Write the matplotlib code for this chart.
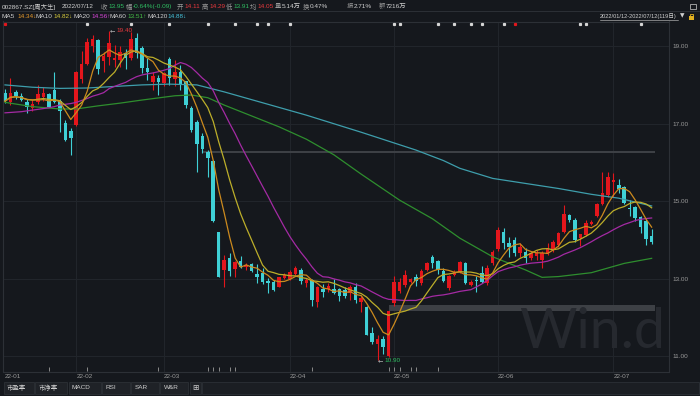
import numpy as np
import pandas as pd
import matplotlib
matplotlib.use('Agg')
import matplotlib.pyplot as plt
from matplotlib.patches import Rectangle
from matplotlib.lines import Line2D

plt.rcParams['font.family'] = ['Liberation Sans', 'Noto Sans CJK SC', 'DejaVu Sans']

# 002867.SZ daily bars, 2022/01/12 - 2022/07/12 (119 days)
opens = [17.78, 17.55, 17.82, 17.72, 17.57, 17.40, 17.57, 17.70, 17.76, 17.87,
         17.58, 17.03, 16.81, 16.97, 18.15, 18.53, 19.01, 19.16, 18.62, 18.73,
         18.63, 18.64, 18.81, 18.69, 19.20, 18.94, 18.43, 18.07, 18.17, 18.04,
         18.67, 18.15, 18.34, 18.10, 17.40, 17.04, 16.69, 16.26, 16.04, 14.20,
         13.23, 13.53, 13.25, 13.45, 13.30, 13.38, 13.13, 13.14, 12.95, 12.93,
         12.80, 13.02, 12.99, 13.13, 13.23, 12.90, 12.97, 12.41, 12.73, 12.73,
         12.73, 12.73, 12.71, 12.63, 12.80, 12.41, 12.28, 11.61, 11.32, 11.44,
         11.01, 12.37, 12.70, 12.84, 12.92, 13.04, 12.90, 13.23, 13.56, 13.46,
         13.21, 12.76, 13.10, 13.19, 13.40, 12.84, 12.97, 13.14, 12.89, 13.40,
         13.76, 14.22, 13.93, 14.00, 13.66, 13.70, 13.53, 13.59, 13.49, 13.64,
         13.76, 13.87, 14.22, 14.65, 14.52, 14.05, 14.13, 14.41, 14.62, 14.93,
         15.16, 15.49, 15.42, 15.36, 14.82, 14.85, 14.60, 14.50, 14.11]
highs = [17.89, 18.17, 17.87, 17.78, 17.64, 17.60, 18.00, 17.94, 17.80, 18.34,
         17.64, 17.10, 16.88, 18.37, 18.87, 19.20, 19.29, 19.18, 18.86, 19.40,
         19.03, 19.00, 18.93, 19.36, 19.35, 19.00, 18.69, 18.34, 18.26, 18.34,
         18.73, 18.64, 18.51, 18.10, 17.45, 17.10, 16.75, 16.32, 16.06, 14.22,
         13.62, 13.67, 13.47, 13.59, 13.42, 13.40, 13.38, 13.27, 13.02, 12.98,
         13.06, 13.14, 13.22, 13.32, 13.27, 13.02, 13.00, 12.82, 12.87, 12.89,
         13.00, 12.76, 12.80, 12.84, 12.89, 12.55, 12.30, 11.77, 11.55, 11.53,
         12.16, 13.07, 13.02, 13.23, 13.02, 13.13, 13.25, 13.44, 13.62, 13.49,
         13.27, 13.10, 13.23, 13.47, 13.44, 12.96, 13.07, 13.33, 13.36, 13.74,
         14.35, 14.30, 14.09, 14.07, 13.92, 13.79, 13.70, 13.74, 13.72, 13.92,
         14.00, 14.22, 14.90, 14.68, 14.56, 14.16, 14.52, 14.52, 14.95, 15.76,
         15.76, 15.73, 15.57, 15.40, 15.03, 14.88, 14.62, 14.55, 14.29]
lows = [17.53, 17.48, 17.63, 17.58, 17.27, 17.33, 17.50, 17.58, 17.42, 17.53,
        16.79, 16.55, 16.19, 16.95, 18.04, 18.50, 18.86, 18.27, 18.32, 18.51,
        18.47, 18.45, 18.42, 18.63, 18.69, 18.30, 18.13, 17.87, 17.74, 17.98,
        18.00, 17.98, 17.87, 17.40, 16.79, 15.76, 16.24, 15.63, 14.47, 13.06,
        12.80, 13.08, 13.06, 13.27, 13.22, 13.17, 12.90, 12.87, 12.64, 12.69,
        12.78, 12.99, 12.97, 13.10, 12.87, 12.78, 12.30, 12.28, 12.54, 12.67,
        12.60, 12.44, 12.50, 12.46, 12.37, 12.15, 11.55, 11.32, 10.90, 11.06,
        10.98, 12.30, 12.63, 12.80, 12.90, 12.82, 12.84, 13.21, 13.27, 13.13,
        12.93, 12.71, 13.08, 13.14, 12.87, 12.82, 12.67, 12.89, 12.84, 13.36,
        13.72, 13.76, 13.57, 13.60, 13.57, 13.40, 13.49, 13.49, 13.27, 13.62,
        13.70, 13.83, 14.18, 14.47, 13.96, 13.85, 14.11, 14.39, 14.60, 14.90,
        15.12, 15.12, 15.21, 14.92, 14.62, 14.50, 14.19, 13.87, 13.91]
closes = [17.58, 17.78, 17.72, 17.61, 17.44, 17.52, 17.76, 17.78, 17.44, 17.55,
          17.33, 16.58, 16.64, 18.33, 18.53, 19.10, 19.18, 18.41, 18.75, 19.07,
          18.70, 18.86, 18.70, 19.18, 18.81, 18.43, 18.34, 18.24, 18.07, 18.30,
          18.19, 18.34, 18.00, 17.48, 16.84, 16.47, 16.35, 16.11, 14.49, 13.06,
          13.49, 13.21, 13.44, 13.31, 13.36, 13.21, 13.06, 12.93, 12.90, 12.71,
          13.04, 13.10, 13.19, 13.27, 12.95, 12.97, 12.46, 12.78, 12.67, 12.82,
          12.64, 12.55, 12.56, 12.78, 12.46, 12.50, 11.55, 11.38, 11.44, 11.25,
          12.16, 12.93, 12.93, 13.10, 12.99, 12.95, 13.21, 13.42, 13.42, 13.23,
          12.95, 13.07, 13.19, 13.44, 12.89, 12.93, 12.95, 12.93, 13.27, 13.70,
          14.26, 13.93, 13.83, 13.67, 13.83, 13.53, 13.67, 13.66, 13.66, 13.76,
          13.96, 14.18, 14.67, 14.52, 14.00, 14.16, 14.43, 14.47, 14.93, 15.21,
          15.62, 15.55, 15.31, 14.96, 14.79, 14.56, 14.33, 14.04, 13.95]

month_labels = ['22-01', '22-02', '22-03', '22-04', '22-05', '22-06', '22-07']
month_start = [0, 13, 29, 52, 71, 90, 111]

# MA20 before 20 closes exist in the window
ma20_head = [17.28, 17.29, 17.30, 17.31, 17.33, 17.35, 17.37, 17.39, 17.41, 17.44,
             17.48, 17.50, 17.52, 17.55, 17.60, 17.65, 17.71, 17.75, 17.80]
ma60_idx = [0, 5, 10, 13, 17, 21, 25, 31, 34, 37, 40, 45, 50, 55, 60, 65, 72,
            78, 83, 89, 95, 98, 101, 107, 113, 118]
ma60_val = [17.55, 17.44, 17.38, 17.38, 17.46, 17.53, 17.61, 17.72, 17.74, 17.67,
            17.48, 17.20, 16.92, 16.60, 16.20, 15.70, 15.03, 14.55, 14.05, 13.57,
            13.23, 13.04, 13.06, 13.16, 13.40, 13.53]
ma120_idx = [0, 5, 10, 15, 20, 25, 30, 35, 40, 45, 50, 55, 60, 65, 70, 75, 80,
             83, 89, 95, 101, 107, 112, 118]
ma120_val = [18.00, 17.94, 17.91, 17.92, 17.96, 18.00, 18.02, 18.00, 17.82, 17.62,
             17.42, 17.22, 17.00, 16.78, 16.55, 16.32, 16.05, 15.85, 15.59, 15.46,
             15.33, 15.18, 15.08, 14.88]

ma_names = ['MA5', 'MA10', 'MA20', 'MA60', 'MA120']
ma_last = ['14.34↓', '14.82↓', '14.56↑', '13.51↑', '14.88↓']

# open price gaps (start index, low, high)
gap_start = [36.2, 70.0]
gap_low = [16.24, 12.18]
gap_high = [16.29, 12.33]

event_top = [15, 23, 30, 37, 42, 46, 48, 52, 71, 72, 79, 82, 85, 87, 91, 105, 106, 116]
event_top_red = [0, 93]
event_bottom = [8, 15, 28, 37, 38, 39, 41, 42, 56, 70, 71, 72, 74, 75, 79]

header = [('002867.SZ[周大生]', '2022/07/12')]
quote_labels = ['收', '幅', '开', '高', '低', '均', '量', '换', '振', '额']
quote_values = ['13.95', '-0.64%(-0.09)', '14.11', '14.29', '13.91', '14.05',
                '5.14万', '0.47%', '2.71%', '7216万']

tab_labels = ['市盈率', '市净率', 'MACD', 'RSI', 'SAR', 'W&R']

# ---- style ----
BG = '#15181d'
GRID = '#22262c'
RED = '#e3161c'
CYAN = '#3fd0d6'
GREEN_T = '#2fbf62'
RED_T = '#e8393d'
LIGHT = '#cfcfcf'
GRAY = '#9a9a9a'
MA_LINE = ['#cc8a1e', '#bcae2a', '#a42aa4', '#2e8e2e', '#3e9eac']
MA_TEXT = ['#e89a2a', '#d8cc3c', '#dc46dc', '#46c046', '#46c4dc']
FS = 4.6

W, H = 700, 396


def fx(px):
    return px / W


def fy(py):
    return 1 - py / H


X0, STEP = 5.0, 5.48        # pixel column of the first candle, pixels per candle
Y15, PPU = 201.3, 38.8      # pixel row of 15.00, pixels per yuan
L, R, T, B = 2.7, 669.0, 21.5, 371.5

fig = plt.figure(figsize=(7, 3.96), dpi=100, facecolor=BG)
ax = fig.add_axes([fx(L), fy(B), (R - L) / W, (B - T) / H])
ax.set_facecolor(BG)
ax.set_xlim((L - X0) / STEP, (R - X0) / STEP)
ax.set_ylim(15 - (B - Y15) / PPU, 15 + (Y15 - T) / PPU)

for sp in ax.spines.values():
    sp.set_color('#2c3036')
    sp.set_linewidth(0.8)

yt = [11, 13, 15, 17, 19]
for v in yt:
    ax.axhline(v, color=GRID, lw=0.7, zorder=0)
for m in month_start[1:]:
    ax.axvline(m, color=GRID, lw=0.7, zorder=0)

ax.yaxis.tick_right()
ax.set_yticks(yt, [f'{v:.2f}' for v in yt])
ax.set_xticks(month_start, month_labels)
ax.tick_params(axis='both', length=0, labelsize=FS, colors=GRAY)
ax.tick_params(axis='y', pad=2.4)
ax.tick_params(axis='x', pad=1.6)
for lb in ax.get_xticklabels():
    lb.set_ha('left')

o, h, l, c = map(np.array, (opens, highs, lows, closes))
idx = np.arange(len(c))
col = np.where(c >= o, RED, CYAN)

# gaps
for g0, glo, ghi in zip(gap_start, gap_low, gap_high):
    ax.add_patch(Rectangle((g0, glo), len(c) - 0.4 - g0, ghi - glo,
                           color='#3d4045', lw=0, zorder=1))

ax.vlines(idx, l, h, colors=col, lw=0.8, zorder=2)
ax.bar(idx, np.maximum(np.abs(c - o), 0.03), bottom=np.minimum(o, c),
       width=0.64, color=col, lw=0, zorder=2)

s = pd.Series(c)
ma5 = s.rolling(5, min_periods=1).mean()
ma10 = s.rolling(10, min_periods=1).mean()
ma20 = s.rolling(20).mean()
ma20.iloc[:len(ma20_head)] = ma20_head
ax.plot(ma120_idx, ma120_val, color=MA_LINE[4], lw=0.9, zorder=3)
ax.plot(ma60_idx, ma60_val, color=MA_LINE[3], lw=0.9, zorder=3)
ax.plot(idx, ma20, color=MA_LINE[2], lw=0.9, zorder=3)
ax.plot(idx, ma10, color=MA_LINE[1], lw=0.9, zorder=3)
ax.plot(idx, ma5, color=MA_LINE[0], lw=0.9, zorder=3)

# highest / lowest marks
imax, imin = int(np.argmax(h)), int(np.argmin(l))
for i, v, tc in ((imax, h[imax], RED_T), (imin, l[imin], GREEN_T)):
    ax.annotate('←', xy=(i, v), xytext=(0.3, 0), textcoords='offset points',
                ha='left', va='center', color='#bfbfbf', fontsize=FS,
                family=['DejaVu Sans'], zorder=5)
    ax.annotate(f'{v:.2f}', xy=(i, v), xytext=(5.2, 0), textcoords='offset points',
                ha='left', va='center', color=tc, fontsize=FS, zorder=5)

# event markers
xt = ax.get_xaxis_transform()
ax.plot(event_top, [0.993] * len(event_top), 's', ms=1.3, color='#d6d6d6',
        transform=xt, clip_on=False, zorder=5)
ax.plot(event_top_red, [0.993] * len(event_top_red), 's', ms=1.3, color=RED,
        transform=xt, clip_on=False, zorder=5)
ax.plot(event_bottom, [0.008] * len(event_bottom), '|', ms=2.5, mew=0.7,
        color='#8a8a8a', transform=xt, clip_on=False, zorder=5)

# watermark
fig.text(fx(592), fy(333), 'Win.d', fontsize=40, color='#26292f',
         ha='center', va='center', family=['Lato', 'DejaVu Sans'], zorder=0)

# header row
fig.add_artist(Line2D([0, 1], [fy(11)] * 2, color='#2c3036', lw=0.7))
fig.text(fx(2), fy(6.5), header[0][0], fontsize=FS, color=LIGHT, va='center')
fig.text(fx(62), fy(6.5), header[0][1], fontsize=FS, color=LIGHT, va='center')
lab_x = [101, 126, 177, 202, 226, 250, 275, 303, 347, 379]
val_colors = [GREEN_T, GREEN_T, RED_T, RED_T, GREEN_T, RED_T, LIGHT, LIGHT, LIGHT, LIGHT]
for x, lab, val, vc in zip(lab_x, quote_labels, quote_values, val_colors):
    fig.text(fx(x), fy(6.5), lab, fontsize=FS, color=GRAY, va='center')
    fig.text(fx(x + 7), fy(6.5), val, fontsize=FS, color=vc, va='center')

# MA legend row
name_x = [2, 36, 73, 109, 147]
val_x = [17, 53, 91, 127, 167]
for nx, vx, nm, vl, tc in zip(name_x, val_x, ma_names, ma_last, MA_TEXT):
    fig.text(fx(nx), fy(16.5), nm, fontsize=FS, color=LIGHT, va='center')
    fig.text(fx(vx), fy(16.5), vl, fontsize=FS, color=tc, va='center')

fig.text(fx(600), fy(16.2), '2022/01/12-2022/07/12(119日)', fontsize=4.1,
         color=LIGHT, va='center')
fig.add_artist(Line2D([fx(600), fx(678)], [fy(19.6)] * 2, color=LIGHT, lw=0.4))
fig.text(fx(680), fy(16.2), '▼', fontsize=4.2, color=LIGHT, va='center',
         family=['DejaVu Sans'])
fig.add_artist(Rectangle((fx(689), fy(19.5)), 4.5 / W, 3.5 / H, color='#e0b020', lw=0))
fig.add_artist(Rectangle((fx(690), fy(16.5)), 2.5 / W, 2.5 / H, fill=False,
                         ec='#e0b020', lw=0.6))
fig.add_artist(Rectangle((fx(690), fy(9)), 6 / W, 5 / H, fill=False, ec='#b0b0b0', lw=0.6))

# bottom tabs
tab_edges = [(3.6, 33.6), (35, 67), (68.5, 101), (102, 130), (131, 159), (160, 188)]
for (x0, x1), t in zip(tab_edges, tab_labels):
    fig.add_artist(Rectangle((fx(x0), fy(393.5)), (x1 - x0) / W, 12 / H,
                             fc='#1f2227', ec='#30343a', lw=0.5))
    fig.text(fx(x0 + 3.5), fy(387.5), t, fontsize=FS, color=LIGHT, va='center')
fig.add_artist(Rectangle((fx(190), fy(393.5)), 11 / W, 12 / H,
                         fc='#1f2227', ec='#30343a', lw=0.5))
fig.text(fx(195.5), fy(387.5), '⊞', fontsize=5.5, color=LIGHT, va='center',
         ha='center', family=['DejaVu Sans'])
fig.add_artist(Rectangle((fx(202), fy(393.5)), 497 / W, 12 / H,
                         fc='#1b1e23', ec='#30343a', lw=0.5))

fig.savefig('out.png', dpi=100, facecolor=BG)
